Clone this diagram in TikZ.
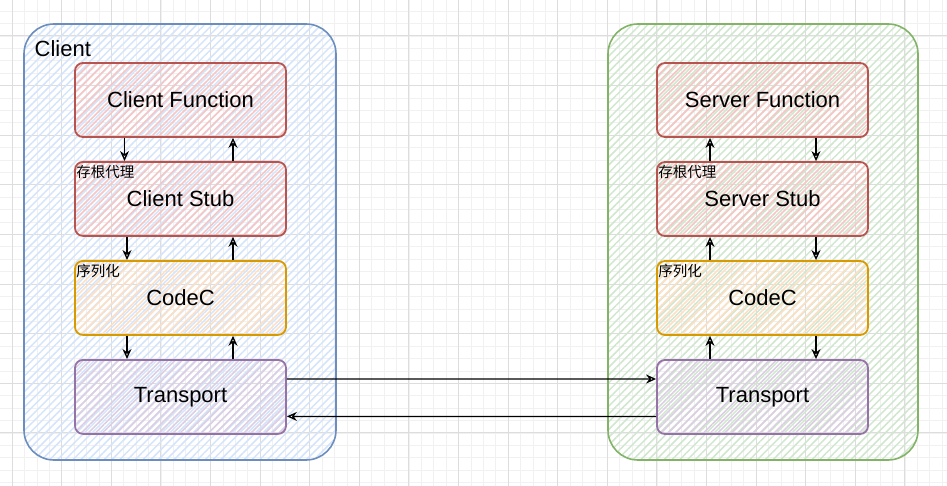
\documentclass[tikz,border=0pt]{standalone}
\usepackage{fontspec}
\setmainfont{Liberation Sans}
\newfontfamily\cjk{Noto Sans CJK SC}
\usetikzlibrary{positioning,arrows.meta,patterns.meta}

\definecolor{gridminor}{HTML}{F1F1F1}
\definecolor{gridmajor}{HTML}{DDDDDD}
\definecolor{blueline}{HTML}{6C8EBF}
\definecolor{bluefill}{HTML}{D4E4FB}
\definecolor{greenline}{HTML}{82B366}
\definecolor{greenfill}{HTML}{D0E6CE}
\definecolor{redline}{HTML}{B85450}
\definecolor{redfill}{HTML}{F6C6C4}
\definecolor{orangeline}{HTML}{D79B00}
\definecolor{orangefill}{HTML}{FDE0C4}
\definecolor{purpleline}{HTML}{9673A6}
\definecolor{purplefill}{HTML}{DCCEE3}

\begin{document}
\begin{tikzpicture}[x=1pt, y=-1pt,
  every node/.style={font=\fontsize{22}{26}\selectfont},
  group/.style={draw=#1line, line width=1.6pt, rounded corners=30pt, inner sep=0pt,
    pattern={Lines[angle=45,distance=5.5pt,line width=1.5pt]}, pattern color=#1fill},
  layer/.style={draw=#1line, line width=1.8pt, rounded corners=8pt, inner sep=0pt,
    minimum width=211pt, minimum height=74pt,
    pattern={Lines[angle=45,distance=5pt,line width=1.6pt]}, pattern color=#1fill},
  tag/.style={anchor=west, inner sep=0pt, font=\cjk\fontsize{14.5}{16}\selectfont},
  arr/.style={-{Stealth[open,length=10pt,width=9pt]}, line width=1.3pt},
  minorgrid/.style={draw=gridminor, line width=0.6pt},
  majorgrid/.style={draw=gridmajor, line width=1pt},
]
\useasboundingbox (0,0) rectangle (947,486);

% grid
\foreach \i in {0,...,76} \draw[minorgrid] ({-0.3+12.4*\i},0) -- ({-0.3+12.4*\i},486);
\foreach \j in {0,...,38} \draw[minorgrid] (0,{11.2+12.4*\j}) -- (947,{11.2+12.4*\j});
\foreach \i in {0,...,19} \draw[majorgrid] ({12.1+49.6*\i},0) -- ({12.1+49.6*\i},486);
\foreach \j in {1,...,9} \draw[majorgrid] (0,{-13.6+49.6*\j}) -- (947,{-13.6+49.6*\j});

% groups
\node[group=blue,  minimum width=312pt, minimum height=436pt] (client) at (180,242) {};
\node[group=green, minimum width=310pt, minimum height=436pt] (server) at (763,242) {};
\node[anchor=west, inner sep=0pt] (clientlab) at (34.5,49) {Client};

% client side
\node[layer=red]    (cf) at (180.5,100)       {Client Function};
\node[layer=red]    (cs) [below=23.2pt of cf] {Client Stub};
\node[layer=orange] (cc) [below=23.2pt of cs] {CodeC};
\node[layer=purple] (ct) [below=23.2pt of cc] {Transport};

% server side
\node[layer=red]    (sf) at (762.5,100)       {Server Function};
\node[layer=red]    (ss) [below=23.2pt of sf] {Server Stub};
\node[layer=orange] (sc) [below=23.2pt of ss] {CodeC};
\node[layer=purple] (st) [below=23.2pt of sc] {Transport};

\node[tag] (cstag) at ([xshift=2pt,yshift=-11pt]cs.north west) {存根代理};
\node[tag] (cctag) at ([xshift=2pt,yshift=-11pt]cc.north west) {序列化};
\node[tag] (sstag) at ([xshift=2pt,yshift=-11pt]ss.north west) {存根代理};
\node[tag] (sctag) at ([xshift=2pt,yshift=-11pt]sc.north west) {序列化};

% client arrows
\draw[arr] ([xshift=-56pt]cf.south) -- ([xshift=-56pt]cs.north);
\draw[arr] ([xshift=52.5pt]cs.north) -- ([xshift=52.5pt]cf.south);
\draw[arr] ([xshift=-53.5pt]cs.south) -- ([xshift=-53.5pt]cc.north);
\draw[arr] ([xshift=52.5pt]cc.north) -- ([xshift=52.5pt]cs.south);
\draw[arr] ([xshift=-53.5pt]cc.south) -- ([xshift=-53.5pt]ct.north);
\draw[arr] ([xshift=52.5pt]ct.north) -- ([xshift=52.5pt]cc.south);

% server arrows
\draw[arr] ([xshift=-52.5pt]ss.north) -- ([xshift=-52.5pt]sf.south);
\draw[arr] ([xshift=53.5pt]sf.south) -- ([xshift=53.5pt]ss.north);
\draw[arr] ([xshift=-52.5pt]sc.north) -- ([xshift=-52.5pt]ss.south);
\draw[arr] ([xshift=53.5pt]ss.south) -- ([xshift=53.5pt]sc.north);
\draw[arr] ([xshift=-52.5pt]st.north) -- ([xshift=-52.5pt]sc.south);
\draw[arr] ([xshift=53.5pt]sc.south) -- ([xshift=53.5pt]st.north);

% transport link
\draw[arr] ([yshift=18pt]ct.east) -- ([yshift=18pt]st.west);
\draw[arr] ([yshift=-19.5pt]st.west) -- ([yshift=-19.5pt]ct.east);

\end{tikzpicture}
\end{document}
